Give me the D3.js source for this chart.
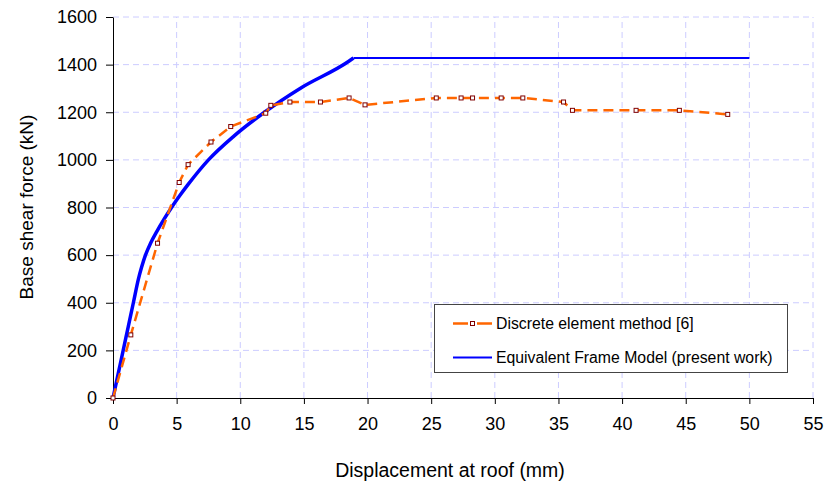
<!DOCTYPE html>
<html>
<head>
    <script src="https://d3js.org/d3.v7.min.js"></script>
    <style>
        body { margin: 0; background: white; }
        text { font-family: "Liberation Sans", Arial, sans-serif; fill: black; }
        .grid line { stroke: #ccccff; stroke-width: 1; stroke-dasharray: 6,4; }
        .axis path, .axis line { stroke: black; stroke-width: 1; }
        .axis text { font-size: 18px; font-family: "Liberation Sans", Arial, sans-serif; }
    </style>
</head>
<body>
    <script>
        // Discrete element method [6]
        var demX = [0, 1.4, 3.5, 5.2, 5.9, 7.7, 9.25, 12.0, 12.4, 13.9, 16.3, 18.55, 19.8, 25.4, 27.35, 28.25, 30.5, 32.2, 35.4, 36.1, 41.1, 44.5, 48.3];
        var demY = [0, 265, 650, 905, 980, 1075, 1140, 1196, 1229, 1243, 1243, 1260, 1231, 1260, 1260, 1260, 1260, 1260, 1243, 1208, 1208, 1208, 1191];
        // Equivalent Frame Model (present work)
        var efmX = [0, 0.4, 0.8, 1.2, 1.6, 2.0, 2.25, 2.55, 2.95, 3.45, 4.0, 4.6, 5.25, 5.95, 7.5, 9.5, 11.9, 14.7, 18.5, 18.9, 50];
        var efmY = [0, 100, 200, 300, 400, 500, 550, 600, 650, 700, 750, 800, 850, 900, 1000, 1100, 1200, 1300, 1413, 1428, 1428];
        var xTicks = [0, 5, 10, 15, 20, 25, 30, 35, 40, 45, 50, 55];
        var yTicks = [0, 200, 400, 600, 800, 1000, 1200, 1400, 1600];
        var legendLabels = ["Discrete element method [6]", "Equivalent Frame Model (present work)"];

        var demData = demX.map(function(d, i){ return {x: d, y: demY[i]}; });
        var efmData = efmX.map(function(d, i){ return {x: d, y: efmY[i]}; });

        var svg = d3.select("body").append("svg")
                    .attr("width", 827).attr("height", 487);

        var x = d3.scaleLinear().domain([0, 55]).range([113, 813]);
        var y = d3.scaleLinear().domain([0, 1600]).range([398, 17]);

        // gridlines
        var grid = svg.append("g").attr("class", "grid");
        grid.selectAll(".v").data(xTicks.slice(1)).enter().append("line")
            .attr("x1", function(d){ return x(d); }).attr("x2", function(d){ return x(d); })
            .attr("y1", y(0)).attr("y2", y(1600));
        grid.selectAll(".h").data(yTicks.slice(1)).enter().append("line")
            .attr("x1", x(0)).attr("x2", x(55))
            .attr("y1", function(d){ return y(d); }).attr("y2", function(d){ return y(d); });

        // axes
        svg.append("g").attr("class", "axis")
            .attr("transform", "translate(0," + y(0) + ")")
            .call(d3.axisBottom(x).tickValues(xTicks).tickFormat(d3.format("d"))
                  .tickSize(6).tickSizeOuter(0).tickPadding(13));
        svg.append("g").attr("class", "axis")
            .attr("transform", "translate(" + x(0) + ",0)")
            .call(d3.axisLeft(y).tickValues(yTicks).tickFormat(d3.format("d"))
                  .tickSize(7).tickSizeOuter(0).tickPadding(9));

        // axis titles
        svg.append("text").attr("x", 450).attr("y", 477)
            .attr("text-anchor", "middle").style("font-size", "19.5px")
            .text("Displacement at roof (mm)");
        svg.append("text").attr("transform", "translate(33,207) rotate(-90)")
            .attr("text-anchor", "middle").style("font-size", "19px")
            .text("Base shear force (kN)");

        var line = d3.line().x(function(d){ return x(d.x); }).y(function(d){ return y(d.y); });
        var curved = d3.line().curve(d3.curveMonotoneX)
                        .x(function(d){ return x(d.x); }).y(function(d){ return y(d.y); });

        // equivalent frame model: dense curved part, then the plateau
        svg.append("path").datum(efmData.filter(function(d){ return d.x >= 18.9; }))
            .attr("d", line)
            .attr("fill", "none").attr("stroke", "#0000ff").attr("stroke-width", 2);
        svg.append("path").datum(efmData.filter(function(d){ return d.x <= 18.9; }))
            .attr("d", curved)
            .attr("fill", "none").attr("stroke", "#0000ff").attr("stroke-width", 3.5);

        // discrete element method
        svg.append("path").datum(demData)
            .attr("d", line)
            .attr("fill", "none").attr("stroke", "#ff6600").attr("stroke-width", 2.5)
            .attr("stroke-dasharray", "10,6");
        svg.append("g").selectAll("rect").data(demData).enter().append("rect")
            .attr("x", function(d){ return x(d.x) - 2; })
            .attr("y", function(d){ return y(d.y) - 2; })
            .attr("width", 4).attr("height", 4)
            .attr("fill", "white").attr("stroke", "#800000").attr("stroke-width", 1);

        // legend
        var legend = svg.append("g").attr("transform", "translate(434,304)");
        legend.append("rect").attr("x", 0.5).attr("y", 0.5).attr("width", 353).attr("height", 68)
            .attr("fill", "white").attr("stroke", "#444").attr("stroke-width", 1);
        legend.append("line").attr("x1", 19).attr("x2", 58).attr("y1", 19.5).attr("y2", 19.5)
            .attr("stroke", "#ff6600").attr("stroke-width", 2.5).attr("stroke-dasharray", "15,9");
        legend.append("rect").attr("x", 36.5).attr("y", 17.5).attr("width", 4).attr("height", 4)
            .attr("fill", "white").attr("stroke", "#800000").attr("stroke-width", 1);
        legend.append("line").attr("x1", 19).attr("x2", 58).attr("y1", 53.5).attr("y2", 53.5)
            .attr("stroke", "#0000ff").attr("stroke-width", 2);
        legend.selectAll("text").data(legendLabels).enter().append("text")
            .attr("x", 62).attr("y", function(d, i){ return 19.5 + i * 34; })
            .attr("dy", "0.35em").style("font-size", "15.8px")
            .text(function(d){ return d; });
    </script>
</body>
</html>
